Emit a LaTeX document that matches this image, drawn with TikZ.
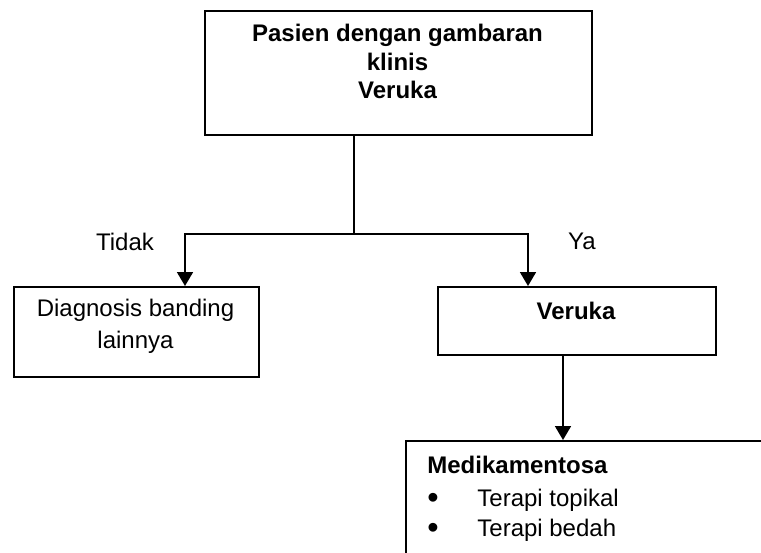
\documentclass[tikz,border=0pt]{standalone}
\usepackage{fontspec}
\setmainfont{Liberation Sans}
\usetikzlibrary{arrows.meta,calc}

\newcommand{\butir}{\makebox[25pt][l]{\smash{\raisebox{-1pt}{\scalebox{1.35}{\textbullet}}}}}

\tikzset{
  kotak/.style={draw, line width=0.9pt, inner sep=0pt, anchor=north west},
  teks/.style={inner sep=0pt, align=center, font=\fontsize{12}{14.25}\selectfont},
  tebal/.style={teks, font=\fontsize{12}{14.25}\selectfont\bfseries},
  garis/.style={line width=0.9pt},
  panah/.style={line width=0.9pt, -{Triangle[width=8pt,length=7pt]}}
}

\begin{document}
\begin{tikzpicture}[x=0.5pt,y=-0.5pt]
\useasboundingbox (0,0) rectangle (761,552);
\clip (0,0) rectangle (761,552);
\fill[white] (0,0) rectangle (761,552);

% kotak-kotak
\node[kotak, minimum width=193.5pt, minimum height=62pt] (pasien) at (204,10) {};
\node[kotak, minimum width=122.5pt, minimum height=45pt] (banding) at (13,286) {};
\node[kotak, minimum width=139pt, minimum height=34pt] (veruka) at (437,286) {};
\node[kotak, minimum width=200pt, minimum height=75pt] (terapi) at (405,440) {};

% isi kotak
\node[tebal, anchor=north] (judul) at (397.5,24) {Pasien dengan gambaran\\klinis\\Veruka};
\node[teks, anchor=north] (lain) at (135.5,299) {Diagnosis banding\\[1.5pt]lainnya};
\node[tebal, anchor=north] (hasil) at (576,302) {Veruka};
\node[teks, align=left, anchor=north west, font=\fontsize{12}{15}\selectfont] (obat) at (427,456)
  {\textbf{Medikamentosa}\\[1.5pt]
   \butir Terapi topikal\\
   \butir Terapi bedah};

% cabang
\coordinate (cabang) at (354,234);
\coordinate (tidak) at (185,234);
\coordinate (ya) at (528,234);
\coordinate (turun) at ($(veruka.south west)+(126,0)$);

\draw[garis] (pasien.south -| cabang) -- (cabang);
\draw[panah] (cabang) -| (tidak |- banding.north);
\draw[panah] (cabang) -| (ya |- veruka.north);
\draw[panah] (turun) -- (turun |- terapi.north);

\node[teks, anchor=north] (labeltidak) at (125,233) {Tidak};
\node[teks, anchor=north] (labelya) at (582,233) {Ya};
\end{tikzpicture}
\end{document}
